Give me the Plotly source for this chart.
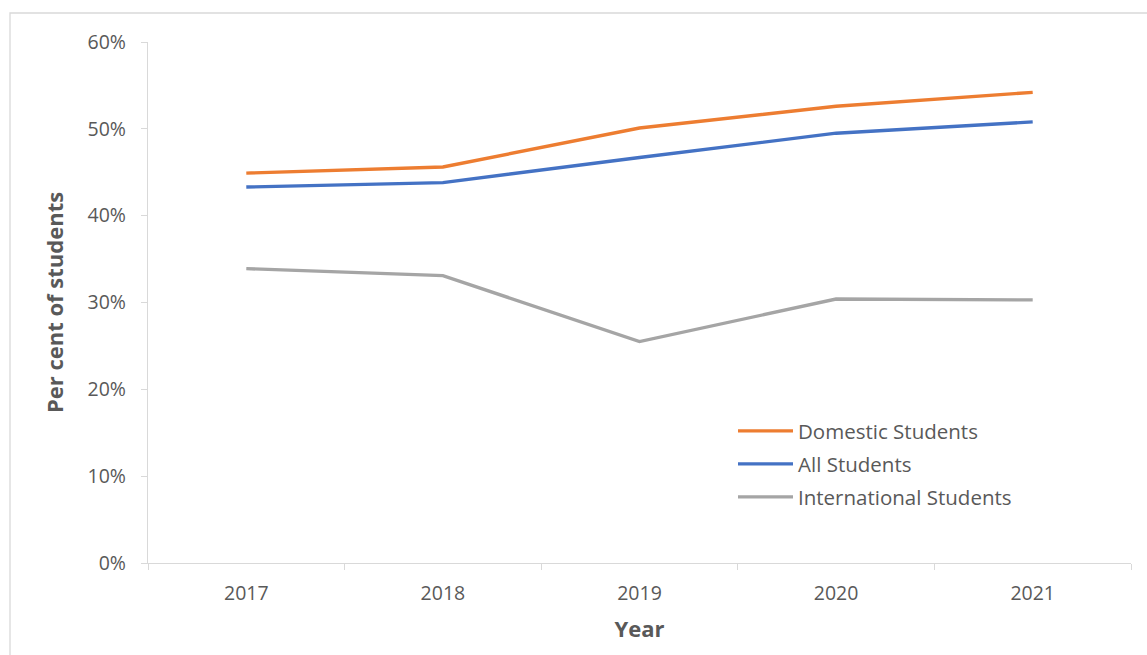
import plotly.graph_objects as go

years = ["2017", "2018", "2019", "2020", "2021"]
domestic = [0.449, 0.456, 0.501, 0.526, 0.542]
all_students = [0.433, 0.438, 0.467, 0.495, 0.508]
international = [0.339, 0.331, 0.255, 0.304, 0.303]

series = [
    ("Domestic Students", domestic, "#ED7D31"),
    ("All Students", all_students, "#4472C4"),
    ("International Students", international, "#A5A5A5"),
]

FONT = "Open Sans, Liberation Sans, sans-serif"
TXT = "#595959"

W, H = 1147, 655
L, R, T, B = 148, 16, 42, 92
pw, ph = W - L - R, H - T - B


def px_x(x):
    return (x - L) / pw


def px_y(y):
    return (H - B - y) / ph


legend_centers = [431, 464, 497]
legend_keys = ["legend", "legend2", "legend3"]

fig = go.Figure()
for (name, vals, col), lk in zip(series, legend_keys):
    fig.add_trace(go.Scatter(x=years, y=vals, name=name, mode="lines",
                             line=dict(color=col, width=3.4), legend=lk))

legends = {}
for lk, cy in zip(legend_keys, legend_centers):
    legends[lk] = dict(x=px_x(733), y=px_y(cy), xanchor="left", yanchor="middle",
                       bgcolor="rgba(0,0,0,0)", font=dict(size=20.5, color=TXT),
                       itemwidth=55)

fig.update_layout(
    width=W, height=H,
    margin=dict(l=L, r=R, t=T, b=B),
    plot_bgcolor="white", paper_bgcolor="white",
    font=dict(family=FONT, color=TXT, size=20),
    showlegend=True,
    xaxis=dict(
        type="category", showgrid=False, showline=True, linecolor="#D9D9D9",
        linewidth=1.3, ticks="outside", tickson="boundaries", ticklen=6,
        tickcolor="#D9D9D9", tickfont=dict(size=19.5, color=TXT),
        ticklabelstandoff=12,
        title=dict(text="<b>Year</b>", font=dict(size=22, color=TXT), standoff=17),
        range=[-0.5, 4.5],
    ),
    yaxis=dict(
        range=[0, 0.6], dtick=0.1, tickformat=".0%", showgrid=False,
        showline=True, linecolor="#D9D9D9", linewidth=1.3, ticks="outside",
        ticklen=6, tickcolor="#D9D9D9", tickfont=dict(size=19.5, color=TXT),
        ticklabelstandoff=11,
        title=dict(text="<b>Per cent of students</b>", font=dict(size=22, color=TXT), standoff=17),
        zeroline=False,
    ),
    shapes=[dict(type="rect", xref="paper", yref="paper",
                 x0=px_x(10), x1=px_x(1160), y0=px_y(13), y1=px_y(700),
                 line=dict(color="#D9D9D9", width=1.3), fillcolor="rgba(0,0,0,0)",
                 layer="below")],
    **legends,
)

fig.write_html("out.html")
